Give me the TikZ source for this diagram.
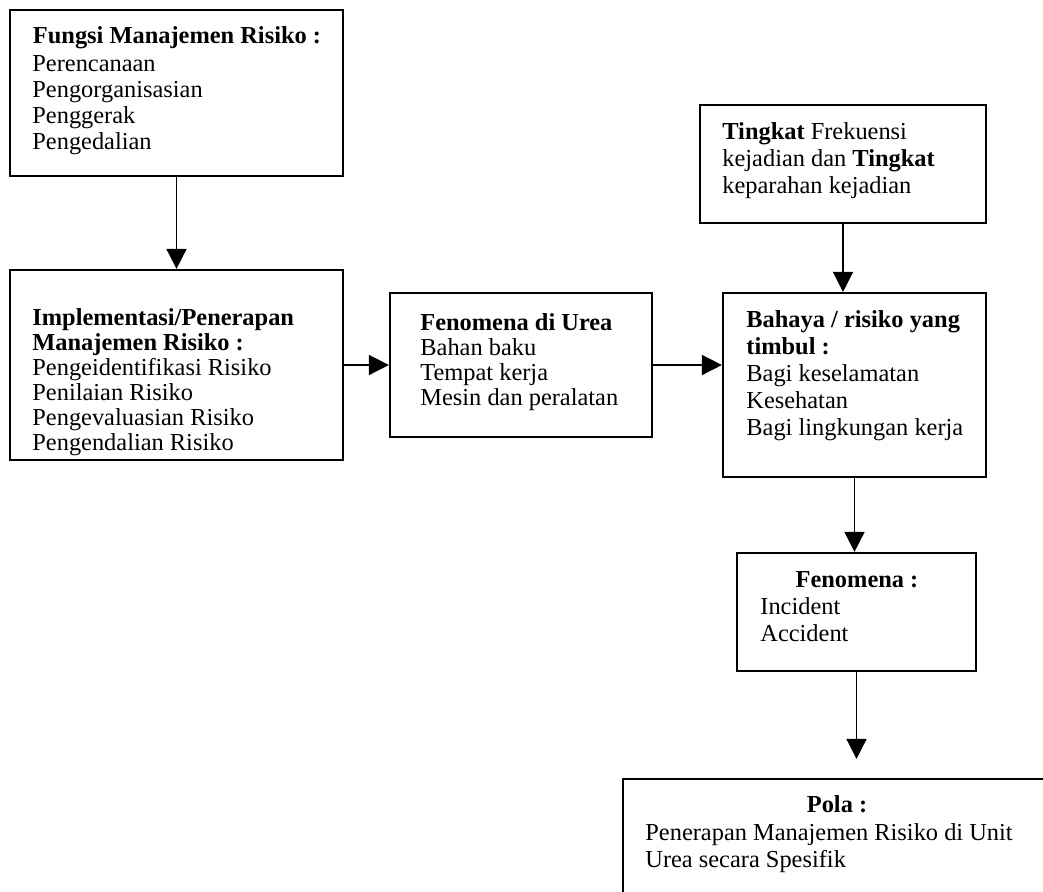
\documentclass[tikz,border=0pt]{standalone}
\usepackage{fontspec}
\setmainfont{Liberation Serif}
\usetikzlibrary{arrows.meta,fit}
\begin{document}
\begin{tikzpicture}[x=0.5pt,y=-0.5pt,
  box/.style={draw, line width=1.1pt, inner sep=0pt},
  txt/.style={anchor=north west, align=left, inner sep=0pt, font=\fontsize{12.2pt}{#1}\selectfont},
  ttl/.style={anchor=base, inner sep=0pt, font=\fontsize{12.2pt}{14pt}\selectfont\bfseries},
  arr/.style={line width=0.8pt, -{Triangle[length=10pt,width=10pt]}}]
\useasboundingbox (0,0) rectangle (1043,891);
\clip (0,0) rectangle (1043,891);
\fill[white] (0,0) rectangle (1043,891);
% boxes
\node[box, fit={(10,10)(343,176)}] (b1) {};
\node[box, fit={(10,270)(343,460)}] (b2) {};
\node[box, fit={(390,293)(652,437)}] (b3) {};
\node[box, fit={(723,293)(986,477)}] (b4) {};
\node[box, fit={(700,105)(986,223)}] (b5) {};
\node[box, fit={(737,553)(976,671)}] (b6) {};
\node[box, fit={(623,779)(1080,940)}] (b7) {};
% texts
\node[ttl] (t1h) at (177,43.5) {Fungsi Manajemen Risiko :};
\node[txt=13pt] (t1) at (32,51) {\rule{0pt}{10pt}Perencanaan\\Pengorganisasian\\Penggerak\\Pengedalian};
\node[txt=12.5pt] (t2) at (32,305.5) {\rule{0pt}{10pt}\textbf{Implementasi/Penerapan}\\\textbf{Manajemen Risiko :}\\Pengeidentifikasi Risiko\\Penilaian Risiko\\Pengevaluasian Risiko\\Pengendalian Risiko};
\node[txt=12.5pt] (t3) at (420,310) {\rule{0pt}{10pt}\textbf{Fenomena di Urea}\\Bahan baku\\Tempat kerja\\Mesin dan peralatan};
\node[txt=13.5pt] (t4) at (746,307.5) {\rule{0pt}{10pt}\textbf{Bahaya / risiko yang}\\\textbf{timbul :}\\Bagi keselamatan\\Kesehatan\\Bagi lingkungan kerja};
\node[txt=13.5pt] (t5) at (722,119) {\rule{0pt}{10pt}\textbf{Tingkat} Frekuensi\\kejadian dan \textbf{Tingkat}\\keparahan kejadian};
\node[ttl] (t6h) at (857,587) {Fenomena :};
\node[txt=13.5pt] (t6) at (760,594) {\rule{0pt}{10pt}Incident\\Accident};
\node[ttl] (t7h) at (837,812) {Pola :};
\node[txt=13.5pt] (t7) at (645,820) {\rule{0pt}{10pt}Penerapan Manajemen Risiko di Unit\\Urea secara Spesifik};
% connectors
\draw[arr] (b1.south) -- (b2.north);
\draw[arr] (b2.east) -- (b3.west);
\draw[arr] (b3.east) -- (b3.east -| b4.west);
\draw[arr] (b5.south) -- (b5.south |- b4.north);
\draw[arr] (b4.south) -- (b4.south |- b6.north);
\draw[arr, shorten >=9.5pt] (b6.south) -- (b6.south |- b7.north);
\end{tikzpicture}
\end{document}
